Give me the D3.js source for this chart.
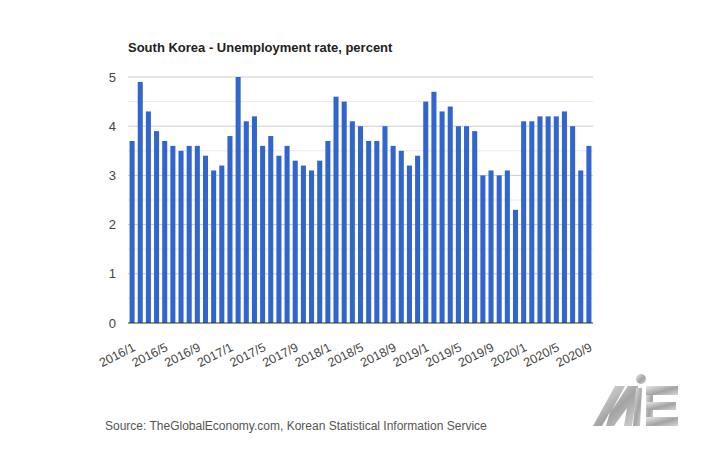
<!DOCTYPE html>
<html><head><meta charset="utf-8">
<script src="https://cdn.jsdelivr.net/npm/d3@7"></script>
<style>body{margin:0;background:#fff}svg{display:block}</style>
</head><body>
<script>
const months = [];
for (let y = 2016; y <= 2020; y++) for (let m = 1; m <= 12; m++) { if (y === 2020 && m > 9) break; months.push(y + "/" + m); }
const values = [3.7,4.9,4.3,3.9,3.7,3.6,3.5,3.6,3.6,3.4,3.1,3.2,
                3.8,5.0,4.1,4.2,3.6,3.8,3.4,3.6,3.3,3.2,3.1,3.3,
                3.7,4.6,4.5,4.1,4.0,3.7,3.7,4.0,3.6,3.5,3.2,3.4,
                4.5,4.7,4.3,4.4,4.0,4.0,3.9,3.0,3.1,3.0,3.1,2.3,
                4.1,4.1,4.2,4.2,4.2,4.3,4.0,3.1,3.6];
const tickLabels = months.filter((d,i)=> i % 4 === 0);
const yTicks = [0,1,2,3,4,5];

const W=720,H=450;
const FONT="'Liberation Sans', Arial, sans-serif";
const svg=d3.select("body").append("svg").attr("width",W).attr("height",H).style("font-family",FONT);
const m={l:128,r:127,t:77,b:127};
const x=d3.scaleBand().domain(months).range([m.l,W-m.r]).paddingInner(0.38).paddingOuter(0.19);
const y=d3.scaleLinear().domain([0,5]).range([H-m.b,m.t]);

const g=svg.append("g");
g.selectAll("line.minor").data(d3.range(0.5,5,1)).join("line")
 .attr("x1",m.l).attr("x2",W-m.r).attr("y1",d=>y(d)).attr("y2",d=>y(d)).attr("stroke","#ebebeb");
g.selectAll("line.major").data(yTicks.slice(1)).join("line")
 .attr("x1",m.l).attr("x2",W-m.r).attr("y1",d=>y(d)).attr("y2",d=>y(d)).attr("stroke","#cccccc");

svg.append("g").selectAll("rect").data(values).join("rect")
 .attr("x",(d,i)=>x(months[i])).attr("width",x.bandwidth())
 .attr("y",d=>y(d)).attr("height",d=>y(0)-y(d)).attr("fill","#3366cc");

svg.append("line").attr("x1",m.l).attr("x2",W-m.r).attr("y1",y(0)).attr("y2",y(0)).attr("stroke","#333").attr("stroke-width",1);

const ya=d3.axisLeft(y).tickValues(yTicks).tickFormat(d3.format("d")).tickSize(0).tickPadding(12);
const yg=svg.append("g").attr("transform",`translate(${m.l},0)`).call(ya);
yg.select(".domain").remove();
yg.selectAll("text").attr("font-size",13).attr("fill","#444").style("font-family",FONT);

const xa=d3.axisBottom(x).tickValues(tickLabels).tickSize(0).tickPadding(0);
const xg=svg.append("g").attr("transform",`translate(0,${y(0)})`).call(xa);
xg.select(".domain").remove();
xg.selectAll("text").attr("font-size",12.5).attr("fill","#444").style("font-family",FONT)
 .attr("text-anchor","end").attr("dy",0).attr("y",0)
 .attr("transform","translate(4,27) rotate(-27)");

svg.append("text").attr("x",m.l).attr("y",52).attr("font-size",13).attr("font-weight","bold").attr("fill","#222")
 .text("South Korea - Unemployment rate, percent");
svg.append("text").attr("x",105).attr("y",430).attr("font-size",12).attr("fill","#555")
 .text("Source: TheGlobalEconomy.com, Korean Statistical Information Service");

// logo approximation
const defs=svg.append("defs");
const lg=defs.append("linearGradient").attr("id","lg").attr("x1",0).attr("y1",0).attr("x2",1).attr("y2",1);
lg.append("stop").attr("offset","0").attr("stop-color","#e8e8e8");
lg.append("stop").attr("offset","0.55").attr("stop-color","#9a9a9a");
lg.append("stop").attr("offset","1").attr("stop-color","#d0d0d0");
const logo=svg.append("g").attr("fill","url(#lg)").attr("opacity",0.9);
logo.append("path").attr("d","M593,426 L615,386 L625,386 L612,410 L628,386 L638,386 L632,426 L624,426 L627,408 L614,426 L606,426 L610,412 L602,426 Z");
logo.append("circle").attr("cx",641).attr("cy",379).attr("r",5);
logo.append("path").attr("d","M636,388 L642,388 L640,426 L633,426 Z");
logo.append("rect").attr("x",646).attr("y",386).attr("width",7).attr("height",40);
logo.append("rect").attr("x",646).attr("y",386).attr("width",32).attr("height",9);
logo.append("rect").attr("x",646).attr("y",402).attr("width",30).attr("height",8);
logo.append("rect").attr("x",646).attr("y",417).attr("width",32).attr("height",9);
</script>
</body></html>
